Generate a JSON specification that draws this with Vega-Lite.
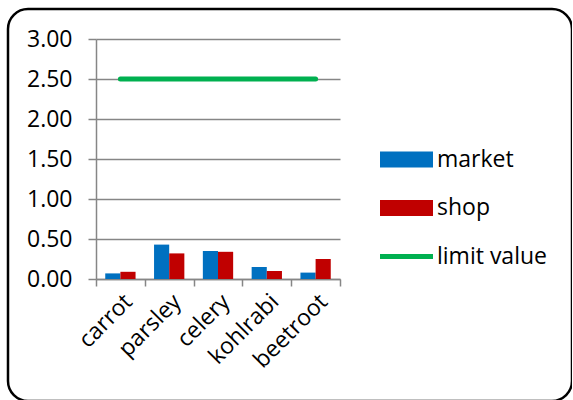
{
  "$schema": "https://vega.github.io/schema/vega-lite/v6.json",
  "width": 564,
  "height": 392,
  "autosize": {"type": "none"},
  "padding": {"left": 8, "top": 9, "right": 0, "bottom": 0},
  "background": "white",
  "config": {
    "view": {"stroke": "black", "strokeWidth": 2.5, "cornerRadius": 20},
    "font": "Open Sans"
  },
  "data": {
    "values": [
      {"veg": "carrot", "series": "market", "value": 0.07},
      {"veg": "carrot", "series": "shop", "value": 0.09},
      {"veg": "parsley", "series": "market", "value": 0.43},
      {"veg": "parsley", "series": "shop", "value": 0.32},
      {"veg": "celery", "series": "market", "value": 0.35},
      {"veg": "celery", "series": "shop", "value": 0.34},
      {"veg": "kohlrabi", "series": "market", "value": 0.15},
      {"veg": "kohlrabi", "series": "shop", "value": 0.1},
      {"veg": "beetroot", "series": "market", "value": 0.08},
      {"veg": "beetroot", "series": "shop", "value": 0.25},
      {"veg": "carrot", "series": "limit value", "value": 2.5},
      {"veg": "beetroot", "series": "limit value", "value": 2.5}
    ]
  },
  "encoding": {
    "x": {
      "field": "veg",
      "type": "nominal",
      "sort": ["carrot", "parsley", "celery", "kohlrabi", "beetroot"],
      "scale": {"range": [88, 332], "paddingInner": 0, "paddingOuter": 0},
      "axis": {
        "title": null,
        "offset": -122,
        "labelAngle": -45,
        "labelFontSize": 23,
        "labelColor": "black",
        "tickSize": 7,
        "tickBand": "extent",
        "grid": false,
        "domainColor": "#868686",
        "tickColor": "#868686",
        "domainWidth": 1.5,
        "tickWidth": 1.5,
        "labelPadding": 4
      }
    },
    "y": {
      "field": "value",
      "type": "quantitative",
      "scale": {"domain": [0, 3], "range": [270, 30], "nice": false, "zero": true},
      "axis": {
        "title": null,
        "values": [0, 0.5, 1, 1.5, 2, 2.5, 3],
        "format": ".2f",
        "offset": -88,
        "tickSize": 8,
        "labelPadding": 16,
        "labelFontSize": 23,
        "labelColor": "black",
        "grid": true,
        "gridColor": "#868686",
        "gridWidth": 1.5,
        "domainColor": "#868686",
        "domainWidth": 1.5,
        "tickColor": "#868686",
        "tickWidth": 1.5
      }
    },
    "color": {
      "field": "series",
      "type": "nominal",
      "scale": {
        "domain": ["market", "shop", "limit value"],
        "range": ["#0070C0", "#C00000", "#00B050"]
      },
      "legend": {
        "title": null,
        "orient": "none",
        "direction": "vertical",
        "legendX": 372,
        "legendY": 124,
        "padding": 0,
        "rowPadding": 9.5,
        "symbolSize": 2809,
        "labelFontSize": 23,
        "labelColor": "black",
        "labelOffset": 4,
        "encode": {
          "symbols": {
            "update": {
              "shape": {"signal": "datum.value === 'limit value' ? 'M-1,-0.09H1V0.09H-1Z' : 'M-1,-0.3H1V0.3H-1Z'"},
              "fill": {"scale": "color", "field": "value"},
              "stroke": {"value": "transparent"},
              "strokeWidth": {"value": 0},
              "opacity": {"value": 1}
            }
          }
        }
      }
    }
  },
  "layer": [
    {
      "transform": [{"filter": "datum.series !== 'limit value'"}],
      "mark": {"type": "bar"},
      "encoding": {
        "xOffset": {
          "field": "series",
          "type": "nominal",
          "sort": ["market", "shop"],
          "scale": {"paddingInner": 0, "paddingOuter": 0.61}
        }
      }
    },
    {
      "transform": [{"filter": "datum.series === 'limit value'"}],
      "mark": {"type": "line", "strokeWidth": 5, "strokeCap": "round"},
      "encoding": {}
    }
  ]
}
